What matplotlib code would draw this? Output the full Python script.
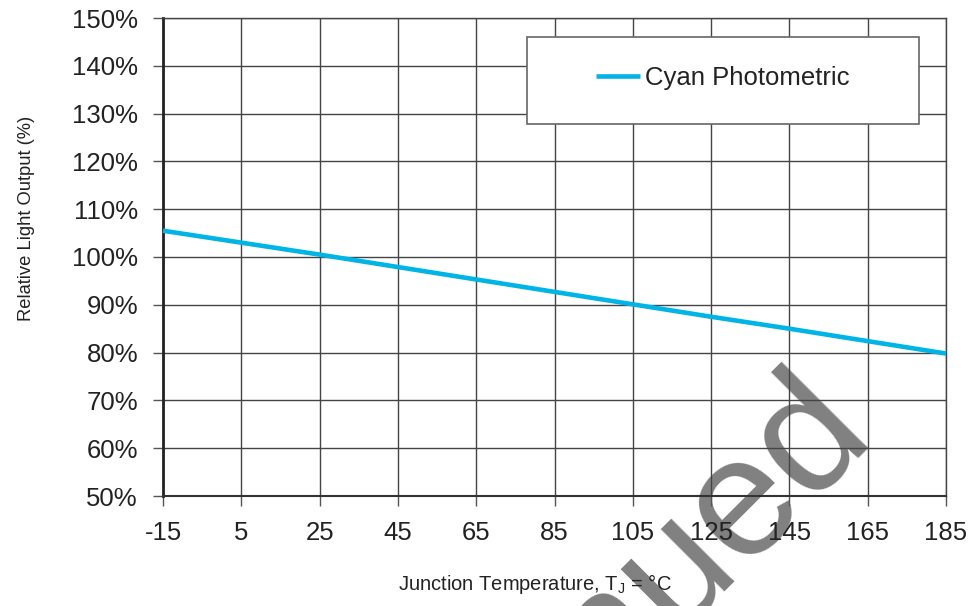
import numpy as np
import matplotlib.pyplot as plt
from matplotlib.patches import Rectangle

# Data
temps = [-15, 5, 25, 45, 65, 85, 105, 125, 145, 165, 185]
light_output = [105.5, 103.0, 100.5, 97.9, 95.3, 92.7, 90.1, 87.5, 85.0, 82.4, 79.8]
series_name = 'Cyan Photometric'
x_ticks = [-15, 5, 25, 45, 65, 85, 105, 125, 145, 165, 185]
y_ticks = [50, 60, 70, 80, 90, 100, 110, 120, 130, 140, 150]

plt.rcParams['font.family'] = ['Liberation Sans', 'DejaVu Sans']
text_color = '#222222'

fig = plt.figure(figsize=(9.74, 6.06), dpi=100)
ax = fig.add_axes([163/974, 1 - 496/606, 783/974, 478/606])
ax.patch.set_alpha(0)

# Watermark behind the plot
fig.text(873/974, 1 - 430/606, 'Discontinued', fontsize=122, color='#808080',
         rotation=45, rotation_mode='anchor', ha='right', va='baseline',
         zorder=-1)

ax.plot(temps, light_output, color='#00B4E6', linewidth=3.3,
        solid_capstyle='butt', label=series_name, zorder=3, clip_on=False)

ax.set_xlim(-15, 185)
ax.set_ylim(50, 150)
ax.set_xticks(x_ticks)
ax.set_yticks(y_ticks)
ax.set_xticklabels([str(t) for t in x_ticks])
ax.set_yticklabels([f'{t}%' for t in y_ticks])
ax.grid(True, color='#444444', linewidth=1.0, zorder=1)
ax.set_axisbelow(True)

ax.tick_params(axis='both', direction='out', length=7, width=1,
               color='#555555', labelsize=18.5, labelcolor=text_color, pad=11)

for side in ['top', 'right']:
    ax.spines[side].set_color('#444444')
    ax.spines[side].set_linewidth(1.0)
ax.spines['left'].set_color('#222222')
ax.spines['left'].set_linewidth(2.0)
ax.spines['bottom'].set_color('#333333')
ax.spines['bottom'].set_linewidth(1.5)

ax.set_xlabel('Junction Temperature, T$_\\mathregular{J}$ = °C', fontsize=14.5,
              color=text_color)
ax.xaxis.set_label_coords(0.475, -0.16)
ax.set_ylabel('Relative Light Output (%)', fontsize=13.2, color=text_color)
ax.yaxis.set_label_coords(-0.164, 0.58)

# Legend box
box_x0, box_x1 = 0.4649, 0.9655
box_y0, box_y1 = 0.7782, 0.9603
ax.add_patch(Rectangle((box_x0, box_y0), box_x1 - box_x0, box_y1 - box_y0,
                       transform=ax.transAxes, facecolor='white',
                       edgecolor='#666666', linewidth=1.2, zorder=4))
leg = ax.legend(loc='center', bbox_to_anchor=((box_x0 + box_x1) / 2, 0.874),
                frameon=False, fontsize=18.5, handlelength=1.7,
                handletextpad=0.2, labelcolor=text_color)
leg.set_zorder(5)

fig.savefig('out.png', dpi=100)
